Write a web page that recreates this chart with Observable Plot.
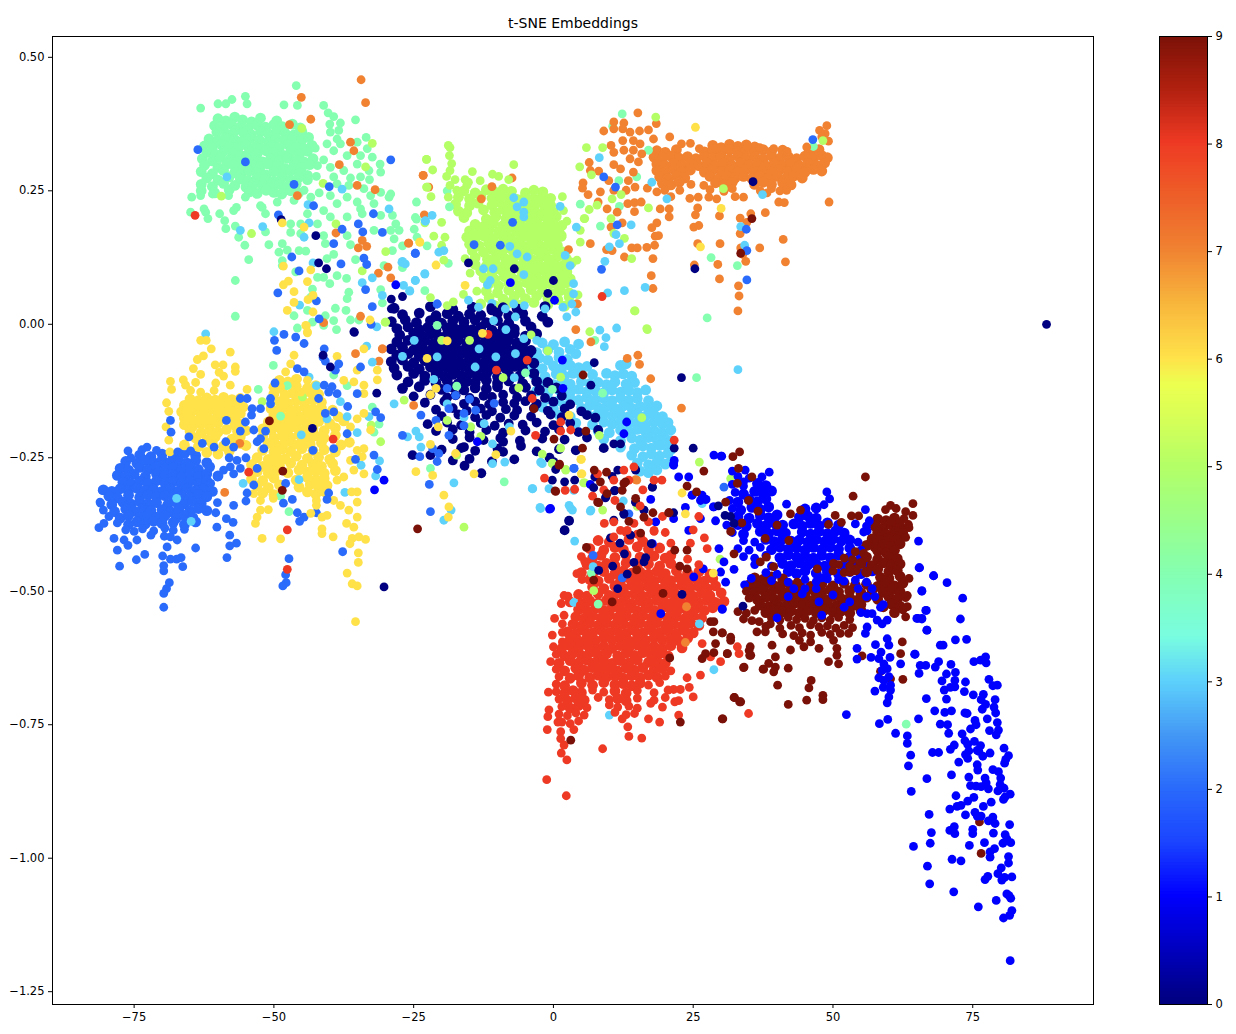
<!DOCTYPE html>
<html><head><meta charset="utf-8">
<script src="https://cdn.jsdelivr.net/npm/d3@7"></script>
<script src="https://cdn.jsdelivr.net/npm/@observablehq/plot@0.6"></script>
<style>html,body{margin:0;padding:0;background:#fff}#c{display:flex;width:1236px;height:1034px}svg{display:block}</style>
</head><body><div id="c"></div>
<script>
const title="t-SNE Embeddings";
const xTicks=[-75,-50,-25,0,25,50,75];
const yTicks=[0.5,0.25,0,-0.25,-0.5,-0.75,-1,-1.25];
const barTicks=[0,1,2,3,4,5,6,7,8,9];
const jetStops=[0,1,1.5,2,2.5,3,3.4,4,4.5,5,5.5,5.75,6,6.5,7,7.5,8,8.5,9];
const jetColors=["#000080","#0000ff","#1b45ff","#2a6bfb","#4499f5","#5ed2fb","#79fde0","#85ffb0","#9bff88","#b4ff66","#dcff55","#ecff50","#ffe14a","#f8b63c","#f08232","#ee5e28","#ee3a24","#b0200f","#7a1108"];

const class4Core=[[-60,.385],[-58.6,.381],[-57,.388],[-55.6,.383],[-54,.379],[-52.4,.386],[-49.5,.381],
[-60.6,.372],[-59,.369],[-57.6,.375],[-56,.37],[-54.6,.367],[-53,.373],[-51.5,.369],[-50,.374],[-48.5,.37],[-46.7,.375],[-45.3,.368],
[-60.2,.36],[-58.4,.356],[-57,.362],[-55.4,.358],[-54,.355],[-52.4,.361],[-51,.357],[-49.4,.362],[-48,.358],[-46.4,.355],[-45,.361],
[-61.6,.347],[-60,.344],[-58.6,.35],[-57,.346],[-55.6,.343],[-54.2,.349],[-52.6,.345],[-51,.342],[-49.6,.348],[-48,.344],[-46.6,.349],[-45,.345],[-43.8,.35],
[-62.4,.334],[-61,.331],[-59.4,.337],[-58,.333],[-56.4,.33],[-55,.336],[-53.4,.332],[-52,.329],[-50.4,.335],[-49,.331],[-47.4,.336],[-46,.332],[-44.6,.329],[-43.2,.335],
[-62,.322],[-60.4,.318],[-59,.324],[-57.4,.32],[-56,.317],[-54.4,.323],[-53,.319],[-51.4,.325],[-50,.321],[-48.4,.317],[-47,.323],[-45.4,.319],[-44,.324],
[-62.8,.31],[-61,.306],[-59.6,.312],[-58,.308],[-56.6,.305],[-55,.311],[-53.6,.307],[-52,.304],[-50.6,.31],[-49,.306],[-47.6,.311],[-46,.307],[-44.6,.304],[-43,.31],
[-62.4,.298],[-60,.294],[-58.4,.3],[-57,.296],[-55.4,.293],[-54,.299],[-52.4,.295],[-51,.3],[-49.4,.296],[-48,.292],[-46.4,.298],[-45,.294],[-43.6,.299],
[-63,.286],[-61,.282],[-59,.288],[-57,.284],[-55.8,.281],[-54.4,.287],[-53,.283],[-51.4,.28],[-50,.286],[-48.4,.282],[-47,.287],[-45.4,.283],[-44,.279],
[-62,.274],[-60,.27],[-58,.276],[-56,.272],[-54.6,.269],[-53,.275],[-51.6,.271],[-50,.268],[-48.6,.274],[-47,.27],[-45.6,.275],[-44,.271],
[-63,.262],[-61,.258],[-59,.264],[-57,.26],[-55,.257],[-53.6,.263],[-52,.259],[-50.6,.256],[-49,.262],[-47.6,.258],[-46,.263],
[-63,.25],[-60.6,.246],[-58,.252],[-54.4,.248],[-53,.245],[-51.4,.251],[-50,.247],[-48.6,.244],[-47,.25],[-45.6,.246]];
const class4Loose=[[-46,.447],[-55.1,.427],[-57.5,.421],[-60,.413],[-63.1,.405],[-58.6,.413],[-54.8,.413],[-48.2,.411],[-45.8,.41],[-41.1,.41],[-40.3,.396],[-39.3,.389],[-35.4,.383],[-40,.375],[-38.1,.377],[-39.9,.36],[-38.4,.363],[-33.5,.35],[-38.7,.347],[-40.5,.338],[-38.1,.338],[-35.1,.341],[-42.6,.33],[-39.3,.325],[-33.3,.329],[-36.9,.316],[-34.5,.316],[-32.4,.313],[-41.1,.308],[-31,.3],[-42.2,.297],[-39.9,.294],[-37.5,.288],[-35.1,.3],[-30.9,.285],[-33,.288],[-42.4,.277],[-39.3,.276],[-36.3,.274],[-34.5,.276],[-32.9,.271],[-38.7,.263],[-36.6,.26],[-33.9,.254],[-30.9,.247],[-29.1,.244],[-44.6,.251],[-41.9,.246],[-39.9,.241],[-36.9,.238],[-32.7,.241],[-43.4,.238],[-46.4,.232],[-49.4,.229],[-38.7,.226],[-35.1,.229],[-32.1,.226],[-29.4,.238],[-24.5,.229],[-52.4,.222],[-55.1,.238],[-58.1,.241],[-61,.244],[-63.1,.241],[-64.7,.238],[-56.7,.219],[-57.2,.213],[-62.5,.216],[-64.9,.21],[-62.2,.21],[-61.8,.198],[-59.7,.207],[-58.8,.194],[-58.6,.179],[-56.9,.184],[-51.5,.207],[-52.1,.219],[-44,.207],[-41.1,.213],[-39.9,.201],[-36.9,.201],[-34.5,.216],[-34.2,.207],[-30.9,.204],[-28.8,.204],[-28.2,.188],[-27.6,.176],[-24.5,.197],[-47,.188],[-45.2,.188],[-42.2,.188],[-47,.172],[-45.2,.17],[-51.5,.173],[-56.3,.163],[-36.9,.166],[-41.1,.166],[-32.1,.176],[-29.1,.176],[-28.5,.16],[-27,.147],[-24.4,.163],[-22.6,.147],[-55.2,.148],[-50.9,.149],[-48.5,.151],[-40.8,.151],[-36.3,.149],[-28.8,.138],[-49.1,.135],[-47.6,.139],[-45.5,.138],[-44.3,.137],[-54.5,.121],[-48.5,.119],[-39.3,.131],[-40.5,.123],[-35.4,.121],[-48.5,.11],[-30.3,.11],[-27,.106],[-46.1,.098],[-41.1,.088],[-38.7,.091],[-37,.086],[-56.9,.082],[-42.2,.088],[-40,.076],[-43.1,.066],[-23,.063],[-36.6,.06],[-30.9,.065],[-36.9,.048],[-43.4,.051],[-30.6,.04],[-39,.03],[-44,.026],[-37.1,.026],[-56.9,.015],[-40.8,.016],[-39.3,.007],[-36.3,.008],[-34.8,.008],[-46.4,.016],[-43.1,.004],[-41.1,-.002],[-38.8,-.01],[-45.8,-.007],[-50.1,-.077],[-52.8,-.122],[-47.3,-.351],[-48.8,-.322],[-47.6,-.115],[-48.8,-.172],[-39.3,-.095],[-36.9,-.115],[-32.4,-.155],[-31.2,-.187],[-32.1,-.202],[-8.8,-.295],[25.6,-.1],[7.4,-.03],[-17.3,-.116],[-14.8,-.192],[-22,-.27],[-.2,-.122],[8.8,-.129],[-5,-.091],[-20.8,-.002],[12.3,.394],[10.6,.371],[17,.326],[14.9,.276],[11.7,.269],[46.5,.333],[11.8,.221],[8.4,.184],[28.2,.125],[32.9,.11],[27.5,.012],[4.8,.225],[6.8,-.466],[8,-.524],[63.1,-.749],[-19,.25],[-18.6,.22],[-24.7,.2],[-24.9,.178],[-18.8,.114]];

const class7Core=[[28.5,.335],[30,.331],[31.5,.337],[33,.333],[34.5,.336],[36,.332],
[18.5,.325],[20,.322],[22,.327],[27,.323],[28.5,.326],[30,.322],[31.5,.327],[33,.323],[34.5,.326],[36,.322],[37.5,.327],[39,.323],[41,.326],[46,.322],[47.5,.327],
[18,.313],[19.5,.31],[21,.315],[22.5,.311],[24,.314],[25.5,.31],[27,.315],[28.5,.311],[30,.314],[31.5,.31],[33,.315],[34.5,.311],[36,.314],[37.5,.31],[39,.315],[40.5,.311],[42,.314],[43.5,.31],[45,.315],[46.5,.311],[48,.316],[49,.312],
[18.5,.3],[20,.297],[21.5,.302],[23,.298],[24.5,.301],[26,.297],[27.5,.302],[29,.298],[30.5,.301],[32,.297],[33.5,.302],[35,.298],[36.5,.301],[38,.297],[39.5,.302],[41,.298],[42.5,.301],[44,.297],[45.5,.302],[47,.298],[48.5,.302],
[18.5,.288],[20,.285],[21.5,.29],[23,.286],[24.5,.289],[27,.285],[28.5,.29],[30,.286],[31.5,.289],[33,.285],[34.5,.29],[36,.286],[37.5,.289],[39,.285],[40.5,.29],[42,.286],[43.5,.289],[45,.285],[46.5,.29],[48,.287],
[19,.276],[20.5,.273],[22,.278],[23.5,.274],[28,.277],[29.5,.273],[31,.278],[32.5,.274],[34,.277],[35.5,.273],[37,.278],[38.5,.274],[40,.277],[41.5,.273],[43,.278],[44.5,.274],
[19.5,.264],[21,.261],[22.5,.266],[29,.265],[30.5,.261],[32,.266],[36,.262],[37.5,.266],[39,.262],[41,.265],[42.5,.261]];
const class7Edge=[[28,.252],[30.5,.249],[32,.254],[37,.25],[39,.254],[40.5,.25],[48.9,.372],[47.6,.363],[48.6,.357],[48,.351],[49.2,.343],[45.3,.332],[41.8,.324],[39.4,.329],[34.6,.332],[36.9,.331]];
const class7Loose=[[15.1,.396],[18.4,.376],[10.8,.379],[12.6,.377],[9,.362],[10.8,.366],[12.4,.366],[13.7,.36],[15.4,.362],[17,.364],[20.8,.351],[17.9,.347],[14.3,.344],[12.4,.344],[10.3,.335],[15.5,.338],[22.9,.338],[24.5,.339],[26.1,.329],[10.8,.322],[12.6,.326],[14.3,.326],[15.8,.319],[13.7,.31],[15.2,.304],[10.8,.299],[6.4,.303],[6.6,.288],[8.1,.287],[12,.291],[9.9,.269],[13.4,.269],[14.3,.285],[5.3,.265],[5.2,.255],[8.4,.248],[6.2,.243],[10.8,.251],[13,.251],[14.6,.257],[16.8,.255],[18.5,.248],[19.9,.251],[22.6,.251],[24.6,.262],[26.9,.26],[30.7,.254],[8,.229],[13.3,.226],[14.5,.228],[15.7,.229],[21,.239],[24.4,.236],[25.9,.238],[27.8,.238],[29.2,.235],[32.5,.239],[34,.238],[38.2,.246],[41.7,.251],[40.3,.229],[41.3,.228],[49.3,.229],[9.6,.216],[11.4,.21],[14.5,.211],[19.1,.216],[20.7,.216],[20.7,.201],[25.8,.218],[25.4,.205],[29.7,.203],[35.3,.207],[37.9,.209],[33.4,.199],[34.6,.191],[10.3,.182],[12.3,.19],[18.5,.19],[17.6,.181],[25.1,.182],[26,.185],[18.2,.165],[18.8,.166],[33.4,.17],[6.6,.151],[16.7,.144],[18.1,.148],[14,.143],[15,.143],[25.8,.151],[29.8,.151],[41.1,.159],[36.9,.143],[9.5,.14],[10.5,.138],[33.5,.143],[12.7,.126],[17.8,.123],[33.9,.131],[34.4,.118],[41.5,.117],[29.4,.112],[25.2,.111],[17.5,.091],[29.7,.085],[17.8,.067],[33.1,.072],[33.2,.053],[33,.025],[2.7,.14],[-23.3,.279],[-22.3,.257],[-7.4,.274],[-11,.258],[-12.9,.235],[-25.9,.152],[4.1,.038],
[-34.4,.458],[-45.1,.425],[-33.6,.415],[-47.2,.374],[-43.4,.384],[-36.3,.341],[-35.7,.325],[-38.3,.299],[-35.1,.26],[-31.9,.252],[-45.8,.241],[-23.3,.279],[-23.1,.205],[-38.9,.171],[-34.2,.157],[-34.9,.143],[-33.4,.146],[-25.9,.152],[-29.6,.107],[-31.3,.096],[-29.1,.087],[-41.1,.003],[-34.5,.015],[-58.8,-.315],[-56.1,-.223],[-35.4,-.055],[-30.6,-.046],[-31.2,-.069],[4,-.01],[6.7,-.033],[13.2,-.064],[15.1,-.058],[15.4,-.075],[17.4,-.102],[22.9,-.157],[-25,-.152],[-30.6,-.046],[4.3,.038],[14.9,-.292],[14.7,-.291],[23.8,-.529],[23.6,-.596]];

const class5Core=[[-16,.25],[-14,.246],[-12,.252],[-10.5,.248],[-9,.253],[-7.5,.249],[-5,.246],[-3.5,.251],[-1.9,.248],
[-17,.238],[-15,.235],[-13,.24],[-11,.236],[-9.5,.241],[-8,.237],[-6.5,.234],[-5,.239],[-3.5,.235],[-2,.24],[-.5,.236],
[-17.5,.225],[-15,.222],[-13.5,.227],[-11,.223],[-9.6,.228],[-8,.224],[-6.3,.221],[-4.8,.226],[-3.4,.222],[-2,.227],[-.5,.223],
[-17,.212],[-15.5,.209],[-12.5,.214],[-10.5,.21],[-9,.215],[-7.5,.211],[-6,.208],[-4.5,.213],[-3,.209],[-1.5,.214],[0,.21],
[-16,.2],[-12,.197],[-10.3,.202],[-8.5,.198],[-7,.203],[-5.5,.199],[-4,.196],[-2.5,.201],[-1,.197],[.5,.202],
[-14,.187],[-12.4,.184],[-10.7,.189],[-9,.185],[-7.5,.19],[-6,.186],[-4.5,.183],[-3,.188],[-1.5,.184],[0,.189],[1.5,.185],
[-15,.175],[-13.3,.172],[-11.5,.177],[-9.8,.173],[-8.2,.178],[-6.6,.174],[-5,.171],[-3.6,.176],[-2,.172],[-.5,.177],[1,.173],
[-15.5,.163],[-14,.16],[-12.4,.165],[-10.8,.161],[-9.2,.166],[-7.7,.162],[-6,.159],[-4.6,.164],[-3,.16],[-1.6,.165],[0,.161],[1.4,.166],
[-15,.15],[-13.3,.147],[-11.6,.152],[-10,.148],[-8.4,.153],[-6.8,.149],[-5.2,.146],[-3.8,.151],[-2.3,.147],[-.8,.152],[.7,.148],
[-14.5,.138],[-12.5,.135],[-11,.14],[-9.2,.136],[-7.6,.141],[-6,.137],[-4.5,.134],[-3,.139],[-1.5,.135],[0,.14],[1.5,.136],
[-14,.125],[-11.8,.122],[-10.2,.127],[-8.6,.123],[-7,.128],[-5.4,.124],[-3.8,.121],[-2.3,.126],[-.8,.122],[.7,.127],[2.3,.123],
[-14,.112],[-12,.109],[-10.4,.114],[-8.8,.11],[-7.2,.115],[-5.6,.111],[-4.2,.108],[-2.8,.113],[-1.3,.109],[.2,.114],[1.7,.11],[3.2,.115],
[-13,.1],[-11,.097],[-9.4,.102],[-7.7,.098],[-6,.103],[-4.6,.099],[-3.2,.096],[-1.8,.101],[-.4,.097],[1,.102],[2.4,.098],
[-12.4,.087],[-10.5,.084],[-8.8,.089],[-7.2,.085],[-5.6,.09],[-4,.086],[-2.6,.083],[-1.2,.088],[.2,.084],[1.6,.089],[3,.085],
[-11.6,.075],[-9.8,.072],[-8,.077],[-6.4,.073],[-4.8,.078],[-3.4,.074],[-2,.071],[-.6,.076],[.8,.072],[2.2,.077],
[-12,.062],[-10,.059],[-8,.064],[-6,.06],[-4,.065],[-2,.061],[-.4,.058],[1.2,.063],[2.8,.059],
[-11.5,.05],[-9,.047],[-7,.052],[-5,.048],[-3,.053],[-1,.049],[.8,.046],[2.8,.051],
[-13,.038],[-10.5,.035],[-8,.04],[-6,.036],[-3.5,.041],[-1,.037],[2,.034]];
const class5Loose=[[-18.8,.335],[-18.5,.331],[-18.6,.316],[-18.2,.301],[-18.5,.288],[-19.1,.277],[-17.6,.271],[-22.7,.309],[-21.6,.289],[-14.5,.286],[-10.9,.281],[-9.8,.277],[-7.1,.299],[-8,.271],[-13.1,.269],[-15.8,.271],[-15.2,.266],[-15.5,.26],[-22.6,.257],[-18.5,.26],[-21.9,.239],[-1.8,.248],[1.6,.239],[-17.3,.251],[-18.8,.238],[-20,.191],[-19.4,.163],[-21.4,.165],[-20,.148],[-19.6,.12],[-15.8,.123],[-14.9,.096],[-16.1,.056],[-13.7,.062],[-17.9,.042],[-19,.035],[4.2,.12],[4.8,.176],[4.8,.154],[5.5,.198],[4.4,.055],[2.4,.193],[1.5,.163],[1.8,.213],[16.7,-.008],[-22,.05],[-23,.19],
[18.3,.388],[17,.218],[5.9,.331],[4.7,.295],[14.5,.025],[30.4,.254],[14,.123],[10.8,.17],[12.1,.243],[10.5,.235],[48.2,.344],[8.8,.331],[10.3,.198],[12.7,.161],[6.8,.28],[7.8,.223],[6.4,.215],[5.6,.198],
[-45,.367],[-59.4,.24],[-54,.17],[-32.4,.339],[-33.6,.295],[-41.2,.264],[-22.7,.309],[-22.7,.257],[-38.9,.188],[-34.2,.1],[-30,.136],[-30.1,.004],[-30.9,-.22],[-52.1,-.145],[-44.9,-.136],[-26.7,-.142],[-32.6,-.189],[-16,-.38],[-17.3,-.245],[-30,.004],[1.3,-.099],[-6.2,-.119],[-14.8,-.192],[-.2,-.261],[-2,-.243],[1.3,-.232],[5.6,-.297],[2.2,-.272],[8.2,-.208],[15.8,-.175],[6.5,-.014],[16.8,-.01],[14.6,.025],[7.2,-.499],[29.8,-.44],[26.1,-.258],[-.2,-.26],[2.2,-.273],[5.4,-.297],[8.8,-.348],[15,-.341],[31.7,-.289],[-20,-.03],[-15,-.03],[-9,-.1],[-19,-.18],[-13,-.21],[-4,-.02],[-1,-.05]];

const class3Core=[[-2,-.035],[0,-.038],[2,-.033],[4.5,-.037],
[-5,-.05],[-3,-.053],[-1,-.048],[1,-.052],[3,-.047],[4,-.055],
[-6,-.065],[-4,-.068],[-2.5,-.063],[-1,-.067],[1,-.062],[2.5,-.066],
[-4,-.08],[-2,-.083],[0,-.078],[1.5,-.082],[3,-.077],[4.5,-.081],[6,-.079],[12,-.077],[13,-.074],
[-3.5,-.095],[-1.5,-.098],[.5,-.093],[2,-.097],[3.5,-.092],[5,-.096],[7,-.094],[9.5,-.092],[11,-.096],[12.5,-.093],[14,-.097],
[-2,-.11],[0,-.113],[1.5,-.108],[3,-.112],[5,-.107],[6.5,-.111],[8,-.109],[9.5,-.113],[11,-.108],[13,-.112],[14.5,-.109],
[-3,-.125],[-1,-.128],[1,-.123],[3,-.127],[4.5,-.122],[6,-.126],[7.5,-.124],[9,-.128],[10.5,-.123],[12,-.127],[13.5,-.124],[15,-.128],[16.5,-.123],
[-1,-.14],[1,-.143],[3,-.138],[4.5,-.142],[6,-.137],[7.5,-.141],[9,-.139],[10.5,-.143],[12,-.138],[13.5,-.142],[15,-.139],[17,-.143],
[-2,-.155],[0,-.158],[2,-.153],[5,-.157],[6.5,-.152],[8,-.156],[9.5,-.154],[11,-.158],[12.5,-.153],[14,-.157],[15.5,-.154],[17,-.158],[18.5,-.153],
[1,-.17],[3,-.173],[6,-.168],[7.5,-.172],[9,-.167],[10.5,-.171],[12,-.169],[13.5,-.173],[15,-.168],[16.5,-.172],[18,-.169],[19.5,-.173],
[4,-.185],[7,-.188],[9,-.183],[10.5,-.187],[12,-.182],[13.5,-.186],[15,-.184],[16.5,-.188],[18,-.183],[19.5,-.187],[20.5,-.184],
[8,-.2],[10,-.203],[12,-.198],[13.5,-.202],[15,-.197],[16.5,-.201],[18,-.199],[19.5,-.203],[21,-.198],
[9,-.215],[12,-.218],[14,-.213],[15.5,-.217],[17,-.212],[18.5,-.216],[20,-.214],[21,-.218],
[12,-.23],[14.5,-.233],[16,-.228],[17.5,-.232],[19,-.227],[20.5,-.231],[21,-.235],
[14,-.245],[16,-.248],[17.5,-.243],[19,-.247],[20.5,-.242],
[15,-.26],[17,-.263],[18.5,-.258],[20,-.262],[21,-.257],
[15.5,-.275],[17,-.278],[18.5,-.273]];
const class3Loose=[[8.3,-.011],[11.3,-.007],[9.4,-.025],[9.1,-.042],[-7.1,.237],[-5.3,.229],[-6.5,.22],[-5.3,.21],[-5.3,.201],[1.2,.221],[-7.8,.146],[-6.5,.132],[-4.7,.126],[-5.3,.093],[-11.3,.082],[-11.8,.074],[-7.1,.038],[-11,.039],[-8.6,.029],[1.7,.032],[3.3,.038],[3.6,.057],[3.6,.076],[3,.11],[2.1,.129],[4.1,.182],[4,.023],[2.4,.014],[-1.5,.029],[-5.2,.035],[-6.8,.014],[-10.7,.007],[-13.4,.032],[-15.2,.045],[-12.5,.104],[-10.8,.104],[-22.9,.193],[-21.7,.204],[-20.5,.135],[-19.6,.138],[-23,.095],[-24.7,.082],[-26.8,.073],[-25.7,.062],[-27.1,.116],[-26.5,.113],
[8.2,.312],[17.6,.266],[20.3,.235],[37.4,.243],[13.9,.186],[11.8,.151],[10,.145],[16.4,.069],[12.7,.063],[9.7,.059],[9.2,.118],[34.2,.148],[33.5,.183],[11.2,.168],
[-58.4,.276],[-37.8,.253],[-43.9,.224],[-43.7,.19],[-56,.176],[-52,.183],[-44.6,.163],[-29.4,.216],[-22.9,.194],[-43,.115],[-27,.118],[-23,.094],[-32.4,.087],[-34.2,.078],[-24.7,.082],[-25.7,.063],[-30.6,.054],[-45.4,.036],[-31.6,-.005],[-62.2,-.018],
[-67.4,-.326],[-64.8,-.369],[-45.5,-.291],[-55.5,-.298],[-45.1,-.207],[-35.1,-.203],[-34.4,-.264],[-31.8,-.284],[-37.3,-.315],[-31.1,-.256],[-40.5,-.177],[-38.1,-.145],[-33,-.173],[-36.9,-.173],[-43.7,-.099],[-42.4,-.115],[-50,-.014],[-32.4,-.071],[-33.4,-.041],
[-3.7,-.308],[-2.4,-.343],[-.8,-.308],[2.8,-.339],[3.4,-.348],[6.6,-.35],[3.8,-.406],[-2.3,-.258],[3.65,-.311],[3.65,-.521],[7.1,-.454],[10,-.732],[26.1,-.561],[28.7,-.647],[12.5,-.331],[26.6,-.336],[33,-.085],
[-24.9,-.03],[-21.4,-.103],[-13.3,-.046],[-20.8,-.061],[-10.3,-.061],[-6.8,-.055],[-5.3,-.027],[-28.5,-.149],[-26.1,-.211],[-24,-.211],[-23.7,-.23],[-24.6,-.2],[-10.9,-.261],[-8.7,-.258],[-10.9,-.224],[-17.8,-.297],[-19.6,-.367],[-18.3,-.348],[-3.8,-.308],[-2.3,-.345],[3.1,-.345],[6.7,-.348],[-2,-.261],[-12.4,-.186],[-16,-.174],[-7.9,-.192],[-19,-.149],[-14,-.08],[-7,-.1],[-3,-.03],[-8.5,-.01],[-27,-.06]];

const class0Core=[[-28.5,.03],[-22,.033],[-18,.028],[-14.5,.032],[-11,.027],[-9,.031],[-6.5,.029],[-1.5,.033],
[-27,.018],[-24,.021],[-21,.016],[-19,.02],[-17,.015],[-15,.019],[-13,.017],[-10,.021],[-8,.016],[-5.5,.02],[-2,.015],
[-29,.005],[-26.5,.008],[-24.5,.003],[-22,.007],[-20,.002],[-18,.006],[-16,.004],[-14,.008],[-12,.003],[-10,.007],[-8,.002],[-5,.006],[-1,.004],
[-28,-.008],[-26,-.005],[-24,-.01],[-22.5,-.006],[-21,-.011],[-19,-.007],[-17.5,-.009],[-16,-.005],[-14.5,-.01],[-13,-.006],[-11,-.011],[-9,-.007],[-7,-.009],[-4,-.005],
[-27.5,-.02],[-25,-.017],[-23.5,-.022],[-22,-.018],[-20.5,-.023],[-19,-.019],[-17.5,-.021],[-16,-.017],[-14.5,-.022],[-13,-.018],[-11.5,-.023],[-10,-.019],[-8.5,-.021],[-7,-.017],[-5,-.022],[-3,-.018],
[-28,-.033],[-26,-.03],[-24.5,-.035],[-23,-.031],[-21.5,-.036],[-20,-.032],[-18.5,-.034],[-17,-.03],[-15.5,-.035],[-14,-.031],[-12.5,-.036],[-11,-.032],[-9.5,-.034],[-8,-.03],[-6.5,-.035],[-5,-.031],
[-29,-.046],[-27,-.043],[-25,-.048],[-23.5,-.044],[-22,-.049],[-20.5,-.045],[-19,-.047],[-17.5,-.043],[-16,-.048],[-14.5,-.044],[-13,-.049],[-11.5,-.045],[-10,-.047],[-8.5,-.043],[-7,-.048],[-5.5,-.044],[-4,-.049],
[-28,-.058],[-26,-.055],[-24,-.06],[-22.5,-.056],[-21,-.061],[-19.5,-.057],[-18,-.059],[-16.5,-.055],[-15,-.06],[-13.5,-.056],[-12,-.061],[-10.5,-.057],[-9,-.059],[-7.5,-.055],[-6,-.06],[-4.5,-.056],
[-29,-.07],[-27,-.067],[-25,-.072],[-23,-.068],[-21.5,-.073],[-20,-.069],[-18.5,-.071],[-17,-.067],[-15.5,-.072],[-14,-.068],[-12.5,-.073],[-11,-.069],[-9.5,-.071],[-8,-.067],[-6.5,-.072],[-5,-.068],[-3.5,-.073],
[-28.5,-.082],[-26,-.079],[-24,-.084],[-22,-.08],[-20.5,-.085],[-19,-.081],[-17.5,-.083],[-16,-.079],[-14.5,-.084],[-13,-.08],[-11.5,-.085],[-10,-.081],[-8.5,-.083],[-7,-.079],[-5.5,-.084],
[-28,-.095],[-25,-.092],[-23,-.097],[-21,-.093],[-19.5,-.098],[-18,-.094],[-16.5,-.096],[-15,-.092],[-13.5,-.097],[-12,-.093],[-10,-.098],[-8,-.094],[-6,-.096],[-3.5,-.092],
[-26,-.108],[-23,-.105],[-21,-.11],[-19,-.106],[-17,-.111],[-15.5,-.107],[-14,-.109],[-12,-.105],[-10,-.11],[-8,-.106],[-5.5,-.111],[-3,-.107],[-1,-.109],
[-27,-.12],[-24,-.117],[-20,-.122],[-18,-.118],[-16,-.123],[-14,-.119],[-12,-.121],[-10,-.117],[-7,-.122],[-5,-.118],[-2.5,-.123],[.5,-.119]];
const class0Edge=[[-25,-.135],[-22,-.132],[-19,-.137],[-17.5,-.133],[-15,-.138],[-12.5,-.134],[-11,-.136],[-9,-.132],[-6.5,-.137],[-4,-.133],[-1.5,-.138],[1.5,-.134],
[-23,-.147],[-19.5,-.144],[-16,-.149],[-14,-.145],[-11.5,-.15],[-9,-.146],[-7,-.148],[-5,-.144],[-3,-.149],[0,-.145],[3,-.15],
[-21,-.16],[-18,-.157],[-15.5,-.162],[-13,-.158],[-11,-.163],[-8.5,-.159],[-6.5,-.161],[-3.5,-.157],[-1,-.162],[2,-.158],[5,-.163],
[-20,-.172],[-17,-.169],[-14,-.174],[-12,-.17],[-9.5,-.175],[-7,-.171],[-4,-.173],[-.5,-.169],[1.5,-.174],[6,-.17],[7.5,-.175],
[-22.5,-.187],[-19,-.184],[-16.5,-.189],[-13,-.185],[-10.5,-.19],[-8,-.186],[-5.5,-.188],[-3,-.184],[0,-.189],[3,-.185],
[-21,-.2],[-18,-.197],[-15,-.202],[-12,-.198],[-9,-.203],[-5,-.199],[-1.5,-.201],[1,-.197],[4.5,-.202],[8,-.198],
[-18,-.215],[-15,-.212],[-12.5,-.217],[-9.5,-.213],[-6,-.218],[-2,-.214],[2,-.216],[6,-.212],
[-20,-.235],[-16.5,-.232],[-14,-.237],[-10,-.233],[-3,-.238],[1,-.234],[4,-.236],[9,-.232],
[-18,-.255],[-15,-.252],[-11,-.257],[-7,-.253],[0,-.258],[-.7,-.25],
[-25.2,-.245],[-22,-.245],[-15.9,-.265],[-12.9,-.279],[2.8,-.368],[2,-.386],[-5.8,-.228],[-9,-.22],[-9,-.239],[-16,-.23]];
const class0Loose=[[88.2,0],[-48.7,.196],[-42.5,.166],[-42,.115],[-40.6,.104],[-27,.052],[-29,.047],[-29,.029],[-35.6,-.015],[-15.2,.115],[-7,.104],[-1,.058],[0,.082],[-11.2,.031],[35.7,.267],[25.3,.104],[-43.1,-.195],[-30.3,-.492],[-39.9,-.08],[-41.2,-.058],[-35.7,-.014],[-31.6,-.129],
[22.9,-.1],[25,-.232],[21.6,-.232],[7.3,-.072],[10.8,-.224],[12,-.224],[6.7,-.114],[14.7,-.273],[17.7,-.305],[14.7,-.333],[9.4,-.323],[11,-.311],[12.6,-.354],[16.2,-.348],
[2.8,-.368],[2,-.385],[.4,-.272],[-.2,-.292],[2,-.295],[3.8,-.292],[14.7,-.272],[11.5,-.273],[10.5,-.285],[7.4,-.286],[7.2,-.306],[10.9,-.312],[9.3,-.325],[14.7,-.333],[16.2,-.348],[12.6,-.356],[10.8,-.367],[10.2,-.4],[11.9,-.41],[12.7,-.43],[14.4,-.446],[16.5,-.437],[16.2,-.445],[10.6,-.453],[8.1,-.461],[17.7,-.305],[13.8,-.395],[17.5,-.411],[13.2,-.468],[11.5,-.495],[23,-.506],[21.5,-.353],[32.3,-.373],[33.9,-.528],[31.7,-.36],[29.5,-.34],[30.7,-.358]];

const class2Core=[[-74,-.245],[-72,-.248],[-70,-.243],[-68,-.247],[-66,-.242],[-64,-.246],
[-76.5,-.257],[-74.5,-.26],[-73,-.255],[-71.5,-.259],[-70,-.254],[-68.5,-.258],[-67,-.256],[-65.5,-.26],[-64,-.255],[-62,-.259],
[-77.5,-.27],[-76,-.273],[-74,-.268],[-72.5,-.272],[-71,-.267],[-69.5,-.271],[-68,-.269],[-66.5,-.273],[-65,-.268],[-63.5,-.272],[-61.5,-.267],
[-78,-.283],[-76.5,-.286],[-75,-.281],[-73,-.285],[-71,-.28],[-69.5,-.284],[-68,-.282],[-66.5,-.286],[-65,-.281],[-63.5,-.285],[-62,-.28],[-60,-.284],
[-77,-.296],[-75.5,-.299],[-74,-.294],[-72.5,-.298],[-71,-.293],[-69.5,-.297],[-68,-.295],[-66.5,-.299],[-65,-.294],[-63.5,-.298],[-62,-.293],
[-80.5,-.31],[-79,-.313],[-77.5,-.308],[-76,-.312],[-74.5,-.307],[-73,-.311],[-71.5,-.309],[-70,-.313],[-68.5,-.308],[-67,-.312],[-65.5,-.307],[-64,-.311],[-62.5,-.309],[-61,-.313],
[-79.5,-.322],[-78,-.325],[-76,-.32],[-74,-.324],[-72.5,-.319],[-71,-.323],[-69.5,-.321],[-68,-.325],[-66.5,-.32],[-65,-.324],[-63.5,-.319],[-62,-.323],
[-79,-.338],[-77,-.333],[-75.5,-.337],[-74,-.332],[-72.5,-.336],[-71,-.334],[-69,-.338],[-67.5,-.333],[-66,-.337],[-64.5,-.332],[-63,-.336],
[-78.5,-.351],[-76.5,-.346],[-75,-.35],[-73.5,-.345],[-72,-.349],[-70,-.347],[-68.5,-.351],[-67,-.346],[-65,-.35],[-63.5,-.345],[-62,-.349],
[-77.5,-.363],[-76,-.358],[-74,-.362],[-72.5,-.357],[-71,-.361],[-69.5,-.359],[-67.5,-.363],[-66,-.358],[-64.5,-.362],
[-76,-.375],[-74.5,-.37],[-73,-.374],[-71.5,-.369],[-70,-.373],[-68,-.371],[-66,-.375],[-64,-.37]];
const class2Edge=[[-81,-.335],[-80.5,-.348],[-79.5,-.36],[-78,-.372],[-76.5,-.385],[-75,-.388],[-73.5,-.383],[-71.5,-.387],[-69.5,-.382],[-68,-.386],[-66,-.384],
[-76.1,-.237],[-73.6,-.235],[-72.7,-.23],[-71,-.236],[-75.6,-.25],[-80.7,-.311],[-81.1,-.333],[-81.3,-.381],[-80.4,-.373],[-78.6,-.401],[-76.8,-.404],[-78,-.423],[-76.1,-.414],[-74.5,-.404],[-72,-.395],[-74.6,-.441],[-73.1,-.431],[-77.6,-.453],[-69.6,-.397],[-69.1,-.417],[-69.9,-.434],[-68.5,-.44],[-67.4,-.44],[-66.6,-.437],[-66.3,-.454],[-69.7,-.452],[-69.7,-.462],[-68.7,-.484],[-69.2,-.495],[-69.7,-.504],[-69.7,-.53],[-64,-.419],[-60.4,-.353],[-60.2,-.38],[-58.5,-.364],[-57.3,-.371],[-57.9,-.395],[-56.7,-.41],[-57.9,-.415],[-58.4,-.437],[-67.3,-.404],[-68.5,-.398],[-47.3,-.439],[-47.9,-.469],[-47.8,-.484],[-48.4,-.49],[-37.7,-.426],[-55,-.331],[-57.2,-.339],[-60.1,-.334],[-48.3,-.335],[-46.7,-.328],[-45.8,-.353],[-45.4,-.369],[-44.6,-.361],[-42.4,-.353]];
const class6Core=[[-65,-.14],[-63.5,-.143],[-62,-.138],[-60.5,-.142],[-59,-.137],[-57.5,-.141],[-56,-.139],
[-66,-.152],[-64.5,-.155],[-63,-.15],[-61.5,-.154],[-60,-.149],[-58.5,-.153],[-57,-.151],[-55.5,-.155],
[-66.5,-.164],[-65,-.167],[-63.5,-.162],[-62,-.166],[-60.5,-.161],[-59,-.165],[-57.5,-.163],[-56,-.167],
[-66,-.176],[-64.5,-.179],[-63,-.174],[-61.5,-.178],[-60,-.173],[-58.5,-.177],[-57,-.175],
[-66,-.188],[-64.5,-.191],[-63,-.186],[-61.5,-.19],[-60,-.185],[-57,-.189],[-56,-.187],
[-65,-.2],[-63,-.203],[-61.5,-.198],[-60,-.202],[-58.5,-.197],[-56.5,-.201],[-55,-.199],
[-64,-.213],[-62,-.216],[-60.5,-.211],[-57.5,-.215],[-56,-.21],
[-66,-.226],[-63.5,-.229],[-61,-.224],[-59,-.228],[-56,-.223],[-55,-.227],
[-62,-.24],[-60,-.243],[-58,-.238],
[-49,-.105],[-47.5,-.108],[-46,-.103],
[-50,-.118],[-48.5,-.121],[-46,-.116],[-44,-.12],[-42.5,-.115],
[-50,-.13],[-48,-.133],[-46.5,-.128],[-45,-.132],[-43.5,-.127],[-42,-.131],
[-49,-.145],[-47.5,-.148],[-46,-.143],[-44.5,-.147],[-43,-.142],[-41.5,-.146],
[-50.5,-.158],[-49,-.161],[-47.5,-.156],[-46,-.16],[-44.5,-.155],[-43,-.159],[-41.5,-.157],[-39.5,-.161],
[-50,-.17],[-48.5,-.173],[-47,-.168],[-45.5,-.172],[-44,-.167],[-42.5,-.171],[-41,-.169],[-38.5,-.173],
[-51,-.183],[-49.5,-.186],[-48,-.181],[-46.5,-.185],[-45,-.18],[-43.5,-.184],[-42,-.182],[-40,-.186],[-37.5,-.181],
[-52,-.196],[-50.5,-.199],[-49,-.194],[-47.5,-.198],[-46,-.193],[-44.5,-.197],[-43,-.195],[-41,-.199],[-39,-.194],
[-52,-.21],[-50,-.213],[-48.5,-.208],[-47,-.212],[-45.5,-.207],[-44,-.211],[-42.5,-.209],[-41,-.213],[-39,-.208],
[-51,-.223],[-49.5,-.226],[-48,-.221],[-46.5,-.225],[-45,-.22],[-43.5,-.224],[-41.5,-.222],[-38,-.226],[-36.5,-.221],
[-52,-.236],[-50,-.239],[-48.5,-.234],[-47,-.238],[-45,-.233],[-43,-.237],[-41,-.235],[-39,-.239],
[-53,-.25],[-51,-.253],[-49.5,-.248],[-48,-.252],[-46,-.247],[-44,-.251],[-42,-.249],[-40,-.253],
[-54,-.263],[-52,-.266],[-50.5,-.261],[-49,-.265],[-47,-.26],[-45,-.264],[-43,-.262],[-41.5,-.266],[-39.5,-.261],
[-53,-.276],[-51,-.279],[-49.5,-.274],[-47.5,-.278],[-45.5,-.273],[-44,-.277],[-42.5,-.275],[-41,-.279],[-39,-.274],
[-54,-.29],[-52,-.293],[-50,-.288],[-46,-.292],[-44,-.287],[-42.5,-.291],[-41,-.289],
[-53,-.303],[-51,-.306],[-49,-.301],[-45.5,-.305],[-43.5,-.3],[-42,-.304],[-40.5,-.302],
[-52,-.316],[-50,-.319],[-44,-.314],[-42.5,-.318],[-41,-.313]];
const class6Edge=[[-63.1,-.03],[-62.1,-.03],[-61.2,-.046],[-62.6,-.059],[-63.7,-.066],[-57.8,-.052],[-60.5,-.076],[-59.1,-.076],[-64.4,-.083],[-56.9,-.08],[-56.9,-.088],[-63.1,-.094],[-59.8,-.09],[-59,-.097],[-66.2,-.104],[-68.5,-.107],[-68.3,-.122],[-64,-.109],[-60.4,-.11],[-65.8,-.114],[-57.8,-.114],[-64.9,-.124],[-63.1,-.127],[-60.7,-.124],[-69.2,-.147],[-68.8,-.163],[-69.3,-.192],[-68.8,-.217],[-68.6,-.239],[-54.8,-.122],[-46.4,-.058],[-47,-.074],[-47.9,-.089],[-44,-.014],[-44.3,-.002],[-45.8,-.102],[-44,-.105],[-48.8,-.117],[-47,-.13],[-45.2,-.127],[-38.7,-.06],[-37.5,-.105],[-35.7,-.108],[-33.9,-.114],[-33.9,-.13],[-33.9,-.046],[-35.1,-.086],[-31.5,-.086],[-31.5,-.104],[-33.9,-.167],[-35.1,-.177],[-36.3,-.192],[-32.7,-.198],[-35.1,-.236],[-33.9,-.233],[-36.3,-.255],[-34.2,-.248],[-33.9,-.28],[-35.7,-.273],[-35.1,-.314],[-36.1,-.314],[-37.5,-.286],[-38.7,-.292],[-39.3,-.33],[-38.1,-.339],[-36.6,-.348],[-35.1,-.333],[-35.1,-.361],[-37,-.373],[-35.7,-.38],[-40.5,-.358],[-41.4,-.361],[-43.4,-.354],[-42.4,-.33],[-42.4,-.339],[-41.4,-.383],[-41.4,-.392],[-39.4,-.398],[-34.8,-.398],[-33.6,-.403],[-36,-.401],[-36.4,-.411],[-34.9,-.428],[-34.9,-.446],[-36.9,-.466],[-36,-.486],[-35.1,-.49],[-35.4,-.557],[-52.1,-.401],[-48.8,-.402],[-53.3,-.373],[-53,-.361],[-52.4,-.348],[-51,-.347],[-50.1,-.326],[-53.6,-.317],[-52.4,-.33]];
const class2Loose=[[-54,-.17],[-56,-.2],[-53,-.22],[-55,-.25],[-53,-.27],[-51.5,-.2],[-56,-.27],[-58,-.25],[-49.9,-.03],[-48.2,-.019],[-49.5,-.049],[-46.1,-.024],[-44.6,-.036],[-41,-.046],[-41.2,-.062],[-40.8,-.069],[-45.8,-.083],[-44.6,-.089],[-39,-.086],[-38.4,-.074],[-34.5,-.08],[-49.8,-.11],[-41,-.114],[-39.6,-.117],[-40.2,-.127],[-38.7,-.13],[-42,-.139],[-35.1,-.13],[-50.6,-.139],[-56,-.139],[-54.8,-.139],[-36.8,-.154],[-40.8,-.167],[-31.8,-.164],[-30.9,-.175],[-53.9,-.158],[-52.4,-.158],[-50.6,-.149],[-55.1,-.183],[-58.5,-.18],[-53.6,-.198],[-51.8,-.233],[-52.4,-.214],[-57.2,-.23],[-58.6,-.22],[-60.7,-.23],[-64.9,-.237],[-65.2,-.211],[-68.5,-.18],[-68.4,-.202],[-62.8,-.223],[-67.2,-.239],[-56.6,-.255],[-57.8,-.267],[-59,-.273],[-60.1,-.286],[-61.3,-.298],[-57.2,-.28],[-53.6,-.301],[-54.8,-.316],[-47.9,-.298],[-39.3,-.233],[-43,-.236],[-36.9,-.205],[-32.1,-.245],[-31.5,-.272],[-35.4,-.253],[-40.2,-.316],[-40.5,-.328],[-39.3,-.164],
[-63.6,.327],[-55.1,.304],[-29.1,.308],[-46.4,.262],[-40.1,.258],[-49.2,.205],[-42.9,.222],[-32.2,.207],[-34.9,.188],[-34.1,.173],[-30.6,.172],[-37.8,.178],[-39.3,.151],[-46.8,.126],[-24.7,.133],[-38,.113],[-33.9,.124],[-33.4,.112],[-45.5,.1],[-49.3,.059],[-33.6,.065],[-42.4,.044],[-32.4,.033],[-41.9,.01],[-32.6,0],
[9,.276],[11.1,.257],[11.4,.186],[34.5,.178],[34.6,.138],[34.6,.083],[8.6,.103],[46.4,.346],[-14.2,.149],[-7.3,.191],[-24.7,.133],[-20.8,.038],[-9.5,.148],
[-20.8,.038],[-17.5,-.133],[-16,-.167],[-10.6,-.148],[-23.7,-.17],[-18.7,-.158],[-27,-.208],[-22,-.351],[-22.2,-.3],[-23.9,-.248],[-20.8,-.257],[-20.5,-.242],[-21.6,-.233],[-18.7,-.208],[-13.9,-.161],[3.7,-.27],[7.1,-.433],[12.3,-.475],[3.65,-.27],[13.5,-.355],[30.5,-.305],[-15,-.14],[-19,-.12],[-21,-.18],[-16,-.19]];

const class8Core=[[8,-.405],[10,-.408],[13.5,-.403],[16,-.407],
[6.5,-.42],[9,-.423],[11,-.418],[12.5,-.422],[15,-.417],[17,-.421],[19,-.419],
[7,-.438],[8.5,-.433],[11,-.437],[13,-.432],[15.5,-.436],[18,-.434],[20,-.438],[21,-.433],
[6,-.45],[8,-.453],[9.5,-.448],[11,-.452],[13,-.447],[15,-.451],[17,-.449],[19,-.453],[21,-.448],
[5,-.465],[7,-.468],[9,-.463],[11,-.467],[12.5,-.462],[14,-.466],[15.5,-.464],[17,-.468],[18.5,-.463],[20,-.467],[22,-.462],[24,-.466],[26,-.464],[28,-.468],
[6.5,-.478],[8,-.481],[10,-.476],[12,-.48],[13.5,-.475],[15,-.479],[16.5,-.477],[18,-.481],[19.5,-.476],[21,-.48],[22.5,-.475],[24,-.479],[25.5,-.477],[27,-.481],[28.5,-.476],
[7,-.492],[9,-.495],[11,-.49],[12.5,-.494],[14,-.489],[15.5,-.493],[17,-.491],[18.5,-.495],[20,-.49],[21.5,-.494],[23,-.489],[24.5,-.493],[26,-.491],[27.5,-.495],[29,-.49],
[4.5,-.506],[6,-.509],[8,-.504],[10,-.508],[11.5,-.503],[13,-.507],[14.5,-.505],[16,-.509],[17.5,-.504],[19,-.508],[20.5,-.503],[22,-.507],[23.5,-.505],[25,-.509],[26.5,-.504],[28,-.508],[30,-.503],
[3,-.52],[5,-.523],[6.5,-.518],[8,-.522],[9.5,-.517],[11,-.521],[12.5,-.519],[14,-.523],[15.5,-.518],[17,-.522],[18.5,-.517],[20,-.521],[21.5,-.519],[23,-.523],[24.5,-.518],[26,-.522],[27.5,-.517],[29,-.521],[30.5,-.519],
[4.5,-.534],[6,-.537],[7.5,-.532],[9,-.536],[10.5,-.531],[12,-.535],[13.5,-.533],[15,-.537],[16.5,-.532],[18,-.536],[19.5,-.531],[21,-.535],[22.5,-.533],[24,-.537],[25.5,-.532],[27,-.536],[28.5,-.531],
[4,-.548],[5.5,-.551],[7,-.546],[8.5,-.55],[10,-.545],[11.5,-.549],[13,-.547],[14.5,-.551],[16,-.546],[17.5,-.55],[19,-.545],[20.5,-.549],[22,-.547],[23.5,-.551],[25,-.546],[26.5,-.55],
[3.5,-.562],[5,-.565],[6.5,-.56],[8,-.564],[9.5,-.559],[11,-.563],[12.5,-.561],[14,-.565],[15.5,-.56],[17,-.564],[18.5,-.559],[20,-.563],[21.5,-.561],[23,-.565],[24.5,-.56],[26,-.564],
[2.5,-.576],[4,-.579],[5.5,-.574],[7,-.578],[8.5,-.573],[10,-.577],[11.5,-.575],[13,-.579],[14.5,-.574],[16,-.578],[17.5,-.573],[19,-.577],[20.5,-.575],[22,-.579],[23.5,-.574],[25,-.578],
[3,-.59],[4.5,-.593],[6,-.588],[7.5,-.592],[9,-.587],[10.5,-.591],[12,-.589],[13.5,-.593],[15,-.588],[16.5,-.592],[18,-.587],[19.5,-.591],[21,-.589],[22.5,-.593],[24,-.588],
[1.5,-.607],[3,-.602],[4.5,-.606],[6,-.601],[7.5,-.605],[9,-.603],[10.5,-.607],[12,-.602],[13.5,-.606],[15,-.601],[16.5,-.605],[18,-.603],[19.5,-.607],[21,-.602],[23,-.606],
[2,-.621],[3.5,-.616],[5,-.62],[6.5,-.615],[8,-.619],[9.5,-.617],[11.5,-.621],[13,-.616],[14.5,-.62],[16,-.615],[17.5,-.619],[19,-.617],[20.5,-.621],
[1,-.635],[3,-.63],[4.5,-.634],[6,-.629],[7.5,-.633],[9,-.631],[10.5,-.635],[12,-.63],[13.5,-.634],[15,-.629],[17,-.633],[18.5,-.631],[20,-.635],
[2,-.649],[4,-.644],[5.5,-.648],[7,-.643],[8.5,-.647],[10,-.645],[11.5,-.649],[13,-.644],[14.5,-.648],[16,-.643],[18,-.647],[19.5,-.645],
[3,-.663],[4.5,-.658],[6.5,-.662],[8,-.657],[9.5,-.661],[11,-.659],[12.5,-.663],[14,-.658],[15.5,-.662],[17,-.657],[18.5,-.661],
[2,-.677],[5,-.672],[7,-.676],[9,-.671],[11,-.675],[12.5,-.673],[14,-.677],[15.5,-.672],
[2,-.691],[3.5,-.686],[5,-.69],[11,-.687],[13,-.691],
[2.5,-.705],[4,-.7],[5.5,-.704],[11.5,-.701],[13,-.705],
[3,-.719],[4.5,-.714]];
const class8Edge=[[13,-.39],[15,-.393],[18,-.388],[5,-.435],[0,-.604],[.5,-.618],[-.5,-.632],[.5,-.646],[21,-.649],[1,-.66],[20,-.659],[.5,-.674],[17,-.676],[19,-.671],[.5,-.688],[7,-.685],[9,-.689],[15,-.686],[18,-.69],[20.5,-.685],[1,-.702],[8,-.699],[10,-.703],[15,-.7],[18,-.704],[1.5,-.716],[6,-.718],[10,-.713],[11.5,-.717],[13.5,-.715],[15,-.719],[1,-.73],[2.5,-.733],[4,-.728],[5.5,-.732],[11,-.727],[13,-.731],[14.5,-.729],[1.5,-.745],[3,-.748],[4.5,-.743],
[-1.2,-.853],[2.3,-.883],[8.8,-.795],[2.4,-.816],[1.4,-.803],[1.9,-.788],[1.3,-.776],[1.3,-.763],[-1.1,-.759],[3.65,-.759],[13.5,-.772],[15.8,-.775],[13.3,-.754],[-.8,-.722],[-1,-.735],[-.9,-.689],[.8,-.745],[12.3,-.739],[17,-.739],[19,-.745],[22.4,-.732],[34.9,-.729],[17.4,-.71],[19.5,-.717],[21.7,-.707],[22.4,-.705],[25,-.698],[24.3,-.68],[22.7,-.684],[21.5,-.684],[20,-.699],[26.3,-.657],[23.9,-.662],[1.9,-.508],[2.6,-.509],[1.4,-.523],[.2,-.551],[1.9,-.545],[1.6,-.561],[1.6,-.577],[-.2,-.582],[1.6,-.595],[4.2,-.467],[5.1,-.478],[5.6,-.444],[4.8,-.526],[5.7,-.529],[28.1,-.623],[29.9,-.632],[32.9,-.604],[33.2,-.617],[26.6,-.598]];
const class8Loose=[[-64.1,.204],[8.7,.052],[-54.5,-.277],[-39.4,-.215],[-47.6,-.385],[-47.6,-.459],[-11.7,-.019],[-10.2,-.086],[-4.7,-.067],[1.3,-.183],[-3.2,-.208],[1.3,-.2],[3.1,-.198],[-1.6,-.288],[2.1,-.311],[3.8,-.309],[-3.8,-.139],[21.6,-.217],[19.4,-.292],[7.9,-.28],[12.6,-.273],[14.4,-.267],[18,-.292],[13.5,-.292],[10.8,-.292],[7,-.322],[9.1,-.373],[10.8,-.37],[12,-.386],[14.4,-.373],[16.2,-.361],[18,-.386],[13.2,-.386],[15.6,-.398],[10.8,-.398],[9,-.31],[16,-.31],[11,-.33],[15.5,-.34],[17,-.37],[19.5,-.36],[20,-.39],[21,-.41],[24,-.44],[26,-.45],[27,-.4],[25,-.385],[27.5,-.42],[26,-.36],[24.5,-.41]];

const class1Core=[[36.5,-.298],[38,-.302],
[34,-.318],[36,-.313],[37.5,-.317],[39,-.312],
[33,-.333],[35,-.328],[36.5,-.332],[38,-.327],
[33.5,-.348],[35.5,-.343],[37,-.347],[38.5,-.342],[45,-.346],[47,-.344],
[33,-.36],[35,-.363],[37,-.358],[38.5,-.362],[40,-.357],[44,-.361],[45.5,-.359],[47,-.363],
[33,-.375],[34.5,-.378],[36.5,-.373],[38,-.377],[39.5,-.372],[41,-.376],[43,-.374],[44.5,-.378],[46,-.373],[47.5,-.377],[49,-.372],[51,-.376],
[34,-.393],[37,-.388],[38.5,-.392],[40,-.387],[41.5,-.391],[44.5,-.389],[46,-.393],[47.5,-.388],[49,-.392],[50.5,-.387],[52,-.391],
[38,-.403],[39.5,-.407],[41,-.402],[42.5,-.406],[44,-.404],[45.5,-.408],[47,-.403],[48.5,-.407],[50,-.402],[51.5,-.406],[53,-.404],
[39,-.422],[40.5,-.417],[42,-.421],[43.5,-.419],[45,-.423],[46.5,-.418],[48,-.422],[49.5,-.417],[51,-.421],[53,-.419],
[40.5,-.437],[42,-.432],[43.5,-.436],[45,-.434],[46.5,-.438],[48,-.433],[49.5,-.437],[51,-.432],[53,-.436],[55,-.434],
[41,-.448],[42.5,-.452],[44,-.447],[45.5,-.451],[47,-.449],[48.5,-.453],[50,-.448],[52,-.452],[54,-.447],[56,-.451],
[42,-.463],[43.5,-.467],[45,-.462],[47,-.466],[49,-.464],[51,-.468],[53,-.463],[55,-.467],[57,-.462]];
const class1Edge=[[33,-.285],[35,-.288],[32,-.3],[34,-.303],[32.5,-.315],[31.5,-.33],[32,-.345],[54,-.374],[56,-.378],[32,-.39],[55.5,-.389],[34,-.405],[36,-.408],[54.5,-.408],[33,-.42],[35,-.423],[37,-.418],[55,-.423],[34,-.435],[36,-.438],[38,-.433],[36,-.45],[39,-.453],[38,-.465],[40,-.468],[39,-.48],[42,-.483],[45,-.478],[47,-.482],[49,-.477],[52,-.481],[54,-.479],[56,-.483],
[26.3,-.33],[26.6,-.32],[27.2,-.328],[28.6,-.342],[29,-.368],[31,-.376],[29.6,-.42],[30.5,-.445],[29.9,-.464],[32.3,-.459],[30.8,-.483],[34.2,-.488],[30.2,-.533],[35.4,-.476],[24.8,-.32],[32,-.275],[34.3,-.273],[34,-.295],[37.3,-.286],[36.7,-.311],[39.1,-.314],
[28.7,-.245],[30.1,-.247],[38.6,-.277],[48.9,-.314],[49.4,-.327],[48.4,-.338],[55.8,-.347],[56.5,-.368],[56.1,-.387],[65.3,-.406],[41.7,-.337],[65.5,-.456],[68,-.471],[65.9,-.5],[66.7,-.536],[65.2,-.551],[65.9,-.551],[66.8,-.573],[69.2,-.601],[64.6,-.618],[52.4,-.731],[57.5,-.687],
[-.7,-.346],[6.6,-.3],[17.4,-.328],[18.3,-.37],[17.7,-.411],[21.5,-.364],[24.2,-.386],[23.6,-.343],[21.5,-.264],[22.4,-.286],[24.2,-.286],[30,-.247],[19.2,-.542],[30.2,-.534],[26.8,-.458],[25.1,-.473],[24.8,-.32],[27.3,-.328],[28.7,-.342],[26.3,-.364]];
const class1Tail=[[65.4,-.456],[68,-.471],[70.4,-.484],[65.9,-.499],[73.2,-.513],[66.6,-.536],[65,-.551],[65.9,-.552],[72.8,-.552],[66.8,-.573],[71.9,-.591],[73.9,-.59],[69.7,-.601],[64.7,-.618],[54.3,-.607],[54.3,-.627],[56.8,-.624],[77.3,-.623],[75.2,-.632],[76.4,-.629],[77.4,-.634],[68.9,-.632],[68.3,-.642],[65.6,-.639],[66.6,-.639],[71.1,-.637],[71.9,-.652],[70.3,-.655],[65.4,-.654],[62.1,-.636],[71.8,-.667],[69.5,-.668],[73.7,-.67],[77.9,-.665],[78.6,-.677],[79.4,-.676],[71.8,-.679],[71,-.68],[69.9,-.685],[73.5,-.688],[75.1,-.694],[76.9,-.693],[66.7,-.701],[70.3,-.702],[76.5,-.703],[79,-.703],[77.3,-.712],[78.8,-.717],[76.7,-.721],[68.2,-.724],[71.2,-.724],[70,-.727],[73.6,-.728],[74,-.729],[79.1,-.728],[77.6,-.739],[65.3,-.739],[59.8,-.74],[58.3,-.748],[75.4,-.742],[79.4,-.746],[69.2,-.749],[70.5,-.75],[75.6,-.75],[74.6,-.758],[79.6,-.76],[78,-.761],[70.7,-.766],[61.2,-.766],[79.2,-.769],[73.1,-.767],[63.3,-.771],[63.3,-.785],[73.6,-.78],[75.3,-.781],[74.1,-.787],[76.4,-.789],[71.7,-.788],[71,-.796],[80.6,-.794],[75.8,-.798],[74.3,-.799],[67.8,-.802],[68.9,-.802],[78.1,-.803],[76.1,-.8],[81.4,-.808],[63.9,-.807],[76.8,-.809],[73.7,-.806],[74.1,-.813],[80.9,-.815],[80.7,-.822],[72.5,-.82],[63.5,-.827],[75.8,-.825],[75.9,-.835],[78.6,-.834],[79.6,-.838],[71.2,-.844],[74.3,-.848],[66.8,-.851],[80,-.85],[77.2,-.85],[77.4,-.859],[74.6,-.864],[75.6,-.865],[76.5,-.866],[79.9,-.862],[77.8,-.87],[80.6,-.869],[79.5,-.874],[64,-.875],[81.7,-.88],[72,-.883],[80.8,-.885],[75.2,-.886],[80.5,-.89],[74.1,-.893],[78.3,-.895],[72.2,-.903],[72.9,-.901],[70.9,-.908],[76.9,-.903],[67.2,-.918],[73.7,-.919],[75.4,-.914],[75.8,-.921],[76.5,-.921],[78.6,-.923],[77.8,-.93],[79,-.935],[81.6,-.937],[70.9,-.948],[71.7,-.941],[71.8,-.954],[67.6,-.952],[75,-.946],[75,-.954],[78.7,-.953],[80.8,-.956],[81.1,-.964],[67.4,-.972],[64.4,-.978],[74.4,-.976],[77.1,-.971],[80.4,-.972],[81.8,-.971],[78.9,-.982],[78.1,-.988],[78.1,-.998],[81.4,-.997],[71.3,-1.002],[72.9,-1.005],[81.4,-1.009],[66.9,-1.015],[80.1,-1.018],[79.5,-1.029],[77.7,-1.034],[77.2,-1.04],[80.7,-1.036],[82,-1.035],[80.2,-1.041],[67.3,-1.048],[71.6,-1.063],[81.1,-1.067],[81.5,-1.07],[81.8,-1.075],[79.2,-1.079],[76,-1.091],[82,-1.098],[81.6,-1.107],[80.5,-1.112],[81.7,-1.192],
[-28.2,.074],[-30.3,-.292],[-32,-.31],[1.7,-.12],[-13.6,-.22],[-.5,-.345],[12.6,-.205],[13.1,-.183],[21.6,-.255],[21.5,-.261],[1.6,-.067],[-7.7,.078],[.2,.045]];
const class9Core=[[36,-.475],[37.5,-.478],[39,-.473],[41,-.477],[62,-.472],[60,-.476],[58.5,-.474],
[35,-.488],[36.5,-.491],[38,-.486],[39.5,-.49],[41,-.485],[42.5,-.489],[44,-.487],[46,-.491],[48,-.486],[50,-.49],[52,-.485],[54,-.489],[56,-.487],[58,-.491],[59.5,-.486],[61,-.49],[62.5,-.485],
[36,-.503],[37.5,-.498],[39,-.502],[40.5,-.497],[42,-.501],[43.5,-.499],[45,-.503],[46.5,-.498],[48,-.502],[49.5,-.497],[51,-.501],[53,-.499],[55,-.503],[57,-.498],[59,-.502],[60.5,-.497],[62,-.501],
[36.5,-.516],[38,-.511],[39.5,-.515],[41,-.51],[42.5,-.514],[44,-.512],[45.5,-.516],[47,-.511],[48.5,-.515],[50,-.51],[51.5,-.514],[53,-.512],[54.5,-.516],[56,-.511],[58,-.515],[60,-.51],[61.5,-.514],
[37,-.526],[38.5,-.529],[40,-.524],[41.5,-.528],[43,-.523],[44.5,-.527],[46,-.525],[47.5,-.529],[49,-.524],[50.5,-.528],[52,-.523],[53.5,-.527],[55,-.525],[59,-.529],[60.5,-.524],[62,-.528],
[38,-.54],[39.5,-.535],[41,-.539],[42.5,-.537],[44,-.541],[45.5,-.536],[47,-.54],[48.5,-.535],[50,-.539],[51.5,-.537],[53,-.541],[55,-.536],[61,-.54],
[58,-.365],[59.5,-.368],[61,-.363],
[57.5,-.378],[59,-.381],[60.5,-.376],[62,-.38],
[58,-.39],[59.5,-.393],[61,-.388],[62.5,-.392],
[57,-.402],[58.5,-.405],[60,-.4],[61.5,-.404],
[56,-.414],[57.5,-.417],[59,-.412],[60.5,-.416],[62,-.411],
[58,-.424],[59.5,-.428],[61,-.423],
[56,-.436],[58,-.44],[60,-.435],[61.5,-.439],
[55,-.448],[57,-.452],[59,-.447],[60.5,-.451],[62,-.449],
[54,-.46],[56,-.464],[58,-.459],[60,-.463],[61.5,-.461]];
const class9Edge=[[34.5,-.5],[35,-.513],[63,-.512],[33,-.538],[34.5,-.541],[36,-.536],[62.5,-.535],[34,-.552],[35.5,-.555],[39,-.55],[40.5,-.554],[42,-.549],[43.5,-.553],[45,-.551],[46.5,-.555],[48,-.55],[49.5,-.554],[51,-.549],[53,-.553],[38,-.566],[40.5,-.569],[42.5,-.564],[44,-.568],[46,-.563],[47.5,-.567],[49,-.565],[50.5,-.569],[52,-.564],[53.5,-.568],[41,-.58],[43,-.583],[44.5,-.578],[46,-.582],[48,-.577],[49.5,-.581],[44,-.592],[46,-.595],[63.5,-.375],[63,-.399],[54,-.426],[55.5,-.429],[52,-.438],[53.5,-.441],[51,-.45],[53,-.453],[50,-.462],[52,-.465],
[55.8,-.286],[53.6,-.322],[64.3,-.336],[60.3,-.339],[59.4,-.347],[61.3,-.345],[63,-.351],[64.3,-.358],[62.7,-.364],[62,-.37],[50.4,-.358],[53.3,-.359],[54.6,-.359],[51.5,-.371],[59.4,-.37],[60.3,-.37],[63.6,-.381],[49.2,-.375],[63.6,-.476],[63.3,-.508],[63.3,-.529],[63,-.548],[36.8,-.557],[38.8,-.561],[36.4,-.576],[37.9,-.576],[39.1,-.601],[39.7,-.623],[38.5,-.635],[37.5,-.646],[39.7,-.642],[39.4,-.651],[42,-.644],[42.4,-.61],[44.8,-.604],[47.5,-.607],[49.2,-.632],[51,-.636],[50.7,-.62],[50.7,-.607],[50.1,-.592],[51.3,-.579],[52.8,-.579],[40.1,-.676],[46.1,-.667],[45.7,-.681],[45.3,-.704],[48.2,-.695],[48.2,-.703],[42,-.712],[34,-.643],[30.3,-.739],[32.3,-.699],[33.3,-.707],[62.5,-.665],[60.3,-.664],[62.4,-.595],[62.1,-.617],[55.2,-.621],[58.5,-.65],[26.9,-.275],[32.1,-.248],[33.3,-.239],[35.2,-.604],[35.1,-.62],[31.1,-.617],[31.7,-.592],[28.1,-.557],[30.2,-.578],[29,-.598],
[35.5,-.286],[33.1,-.27],[32.9,-.298],[34.9,-.33],[36.6,-.35],[33.7,-.372],[31.7,-.388],[30.8,-.333],[37.9,-.401],[38.1,-.436],[39.4,-.454],[42.1,-.405],[40,-.376],[42.4,-.355],[44.2,-.348],[32.3,-.43],[47.2,-.458],[50.1,-.448],[43.6,-.483],[53.1,-.464],[37,-.445],
[76.2,-.932],[76.5,-.991]];
const class1Top=[[56.1,-.542],[57,-.542],[57.9,-.554],[58.8,-.561],[56.1,-.567],[59.7,-.554],[55.8,-.579],[57.6,-.6],[59.7,-.589],[60,-.601],[58.6,-.614],[60.2,-.624],[58.2,-.626],[59.1,-.636],[59.7,-.645],[58.2,-.662],[59.1,-.667],[60,-.66],[60.3,-.676],[59,-.68],[60.3,-.685],[60,-.698],[59.7,-.709],[58.8,-.648],[42,-.51],[44.5,-.505],[47.5,-.52],[50,-.507],[53,-.52],[56,-.51],[58.5,-.53],[47,-.495],[48,-.475],[51,-.478],[54.5,-.495],[57,-.495],[59,-.525],[57.5,-.51],[43,-.495],[45,-.495],[40,-.55],[48,-.545],[55,-.54],[52,-.53]];
const class9Loose=[[-50.8,-.181],[-48.4,-.275],[-48.5,-.311],[35.5,.198],[33.5,.133],[-24.3,-.383],[1.1,-.262],[.1,-.215],[-3.5,-.158],[5.3,-.095],[5.8,-.2],[5.2,-.232],[.4,-.313],[12.6,-.298],[9.6,-.317],[7.9,-.333],[7.3,-.273],[20.7,-.353],[23.9,-.303],[25.6,-.314],[3.1,-.779],[22.7,-.745],[30.2,-.739],[32.4,-.699],[33.5,-.707],[34.1,-.642],[37.6,-.646],[20.8,-.625],[28.7,-.557],[28.6,-.576],[30.2,-.578],[31.7,-.586],[31.1,-.617],[26.6,-.626],[28.7,-.615],[27.2,-.617],[35,-.611],[35.3,-.62],[10.5,-.52],[19.6,-.504],[23.9,-.458],[22.6,-.453],[5.9,-.418],[7.2,-.479],[14.9,-.46],[21.7,-.423],[23.9,-.423],[20.6,-.353],[1,-.264],[.3,-.312],[8.1,-.334],[9.5,-.277],[8.4,-.295],[14.7,-.326],[17.8,-.353],[16.2,-.361],[13.5,-.369],[15.6,-.391],[12.3,-.311],[12,-.342],[12.9,-.295]];
const class6Loose=[[25.4,.369],[30,.217],[26.3,.145],[-23.9,.154],[-21,.111],[-15.8,.073],[-48.5,.19],[-44.6,.182],[-43.4,.102],[-44,.08],[-47.4,.081],[-48.3,.074],[-46.4,.061],[-46.4,.041],[-43.9,.046],[-43,.054],[-47.6,.026],[-43,.023],[-23.9,.154],[-32.8,.008],[-44.2,-.003],[-44,-.016],[-48.3,.109],[-22.6,-.064],[-19,-.031],[-21,-.12],[-22,-.132],[-20.6,-.192],[-22,-.225],[-24.6,-.276],[-21.6,-.283],[-14.2,-.28],[-10.3,-.244],[-19.6,-.32],[-18.7,-.342],[-18.8,-.361],[-12.7,-.017],[4.9,-.253],[5.1,-.28],[2.8,-.17],[-7.6,-.2],[-17.5,-.242],[5,-.253],[5,-.28],[23,-.316],[28.6,-.466],[23.6,-.355]];

const barLevels=d3.range(0,9,0.03);
const coreR=5.4, looseR=4.4;
const layers=[[4,class4Core,coreR],[4,class4Loose,looseR],[7,class7Core,coreR],[7,class7Edge,looseR],[7,class7Loose,looseR],[5,class5Core,coreR],[5,class5Loose,looseR],[3,class3Core,coreR],[0,class0Core,coreR],[0,class0Edge,looseR+.5],[3,class3Loose,looseR],[2,class2Core,coreR],[2,class2Edge,looseR],[6,class6Core,coreR],[6,class6Edge,looseR],[2,class2Loose,looseR],[8,class8Core,coreR],[8,class8Edge,looseR],[1,class1Core,coreR],[1,class1Edge,looseR],[9,class9Core,coreR],[9,class9Edge,looseR],[1,class1Tail,looseR],[1,class1Top,looseR],[0,class0Loose,looseR],[8,class8Loose,looseR],[9,class9Loose,looseR],[6,class6Loose,looseR]];
const points=layers.flatMap(([v,list,s])=>list.map(([x,y])=>({x,y,v,s})));
const font={fontFamily:"'DejaVu Sans',sans-serif",fontSize:11.5};
const colorScale={type:"linear",domain:jetStops,range:jetColors};

const main=Plot.plot({width:1150,height:1034,marginLeft:52,marginRight:57,marginTop:36,marginBottom:30,style:{...font,color:"#000",background:"#fff"},
 x:{domain:[-89.6,96.6],ticks:xTicks,label:null,tickFormat:d3.format("d")},
 y:{domain:[-1.274,.539],ticks:yTicks,label:null,tickFormat:d3.format(".2f")},
 color:colorScale,
 marks:[
  Plot.dot(points,{x:"x",y:"y",fill:"v",r:{value:"s",scale:null},stroke:null}),
  Plot.frame({stroke:"#000",strokeWidth:1}),
  Plot.axisX({ticks:xTicks,tickSize:4,tickPadding:4,label:null,tickFormat:d3.format("d")}),
  Plot.axisY({ticks:yTicks,tickSize:4,tickPadding:4,label:null,tickFormat:d3.format(".2f")}),
  Plot.text([title],{frameAnchor:"top",dy:-18,fontSize:14,fontFamily:"'DejaVu Sans',sans-serif",fill:"#000"})
 ]});
const bar=Plot.plot({width:86,height:1034,marginLeft:9,marginRight:29,marginTop:36,marginBottom:30,style:{...font,color:"#000",background:"#fff"},
 x:{domain:[0,1],axis:null},
 y:{domain:[0,9],ticks:barTicks,label:null,clamp:true,tickFormat:d3.format("d")},
 color:colorScale,
 marks:[
  Plot.rect(barLevels,{x1:0,x2:1,y1:d=>d,y2:d=>Math.min(9,d+0.05),fill:d=>d}),
  Plot.frame({stroke:"#000",strokeWidth:1}),
  Plot.axisY({anchor:"right",ticks:barTicks,tickSize:4,tickPadding:4,label:null,tickFormat:d3.format("d")})
 ]});
document.getElementById("c").append(main,bar);
</script></body></html>
